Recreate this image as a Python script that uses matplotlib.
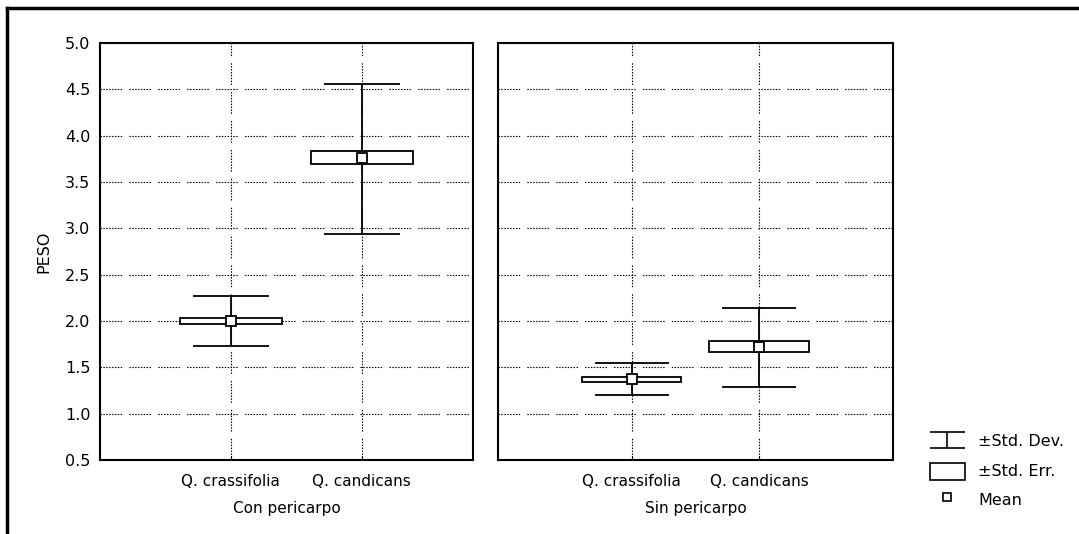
import matplotlib
matplotlib.use('Agg')
import numpy as np
import matplotlib.pyplot as plt
from matplotlib.patches import Rectangle
from matplotlib.lines import Line2D

# data
species = ['Q. crassifolia', 'Q. candicans']
groups = ['Con pericarpo', 'Sin pericarpo']
mean_vals = [[2.00, 3.76], [1.37, 1.72]]
se_low = [[1.97, 3.69], [1.34, 1.66]]
se_high = [[2.03, 3.83], [1.40, 1.78]]
sd_low = [[1.73, 2.94], [1.20, 1.29]]
sd_high = [[2.27, 4.56], [1.55, 2.14]]
yticks = [0.5, 1.0, 1.5, 2.0, 2.5, 3.0, 3.5, 4.0, 4.5, 5.0]

plt.rcParams['font.family'] = ['DejaVu Sans']

fig = plt.figure(figsize=(10.79, 5.34), dpi=100)
ax1 = fig.add_axes([0.0927, 0.1386, 0.3457, 0.7809])
ax2 = fig.add_axes([0.4615, 0.1386, 0.3661, 0.7809])

# groups of dots separated by gaps (dash units scale with lw)
dots = (1.3, 1.3) * 8
grid_kw = dict(color='k', lw=0.8, linestyle=(0, dots[:-1] + (6.5,)), zorder=0)
x = np.arange(1, len(species) + 1)
for ax, g, m, sl, sh, dl, dh, xl in zip(
        [ax1, ax2], groups, mean_vals, se_low, se_high, sd_low, sd_high,
        [(0, 2.85), (-0.05, 3.05)]):
    ax.set_xlim(*xl)
    ax.set_ylim(0.5, 5.0)
    for yv in yticks[1:-1]:
        ax.axhline(yv, **grid_kw)
    for xv in x:
        ax.axvline(xv, **grid_kw)
    # std dev whiskers
    ax.vlines(x, dl, dh, color='k', lw=1.3, zorder=2)
    ax.hlines(dl, x - 0.29, x + 0.29, color='k', lw=1.3, zorder=2)
    ax.hlines(dh, x - 0.29, x + 0.29, color='k', lw=1.3, zorder=2)
    # std err boxes
    for xi, lo, hi in zip(x, sl, sh):
        ax.add_patch(Rectangle((xi - 0.39, lo), 0.78, hi - lo, facecolor='white',
                               edgecolor='k', lw=1.3, zorder=3))
    ax.plot(x, m, 's', ms=7, mfc='white', mec='k', mew=1.3, zorder=4)
    ax.set_xticks(x)
    ax.set_xticklabels(species, fontsize=11)
    ax.set_xlabel(g, fontsize=11, labelpad=9)
    ax.tick_params(axis='x', direction='in', length=3, pad=10)
    for s in ax.spines.values():
        s.set_linewidth(1.5)

ax1.set_yticks(yticks)
ax1.set_yticklabels(['%.1f' % v for v in yticks], fontsize=11.5)
ax1.tick_params(axis='y', length=0, pad=7)
ax1.set_ylabel('PESO', fontsize=11.5, labelpad=10)
ax2.set_yticks(yticks)
ax2.set_yticklabels([])
ax2.tick_params(axis='y', length=0)

# outer frame lines (top and left)
fig.add_artist(Line2D([0.0065, 1.0], [0.985, 0.985], color='k', lw=2.5))
fig.add_artist(Line2D([0.0065, 0.0065], [0.0, 0.985], color='k', lw=2.5))

# legend
lax = fig.add_axes([0.855, 0.02, 0.14, 0.22])
lax.set_xlim(0, 1)
lax.set_ylim(0, 1)
lax.axis('off')
lax.hlines([0.78, 0.64], 0.05, 0.28, color='k', lw=1.2)
lax.vlines(0.165, 0.64, 0.78, color='k', lw=1.2)
lax.add_patch(Rectangle((0.05, 0.37), 0.23, 0.14, facecolor='white', edgecolor='k', lw=1.2))
lax.plot([0.165], [0.22], 's', ms=5.5, mfc='white', mec='k', mew=1.2)
lax.text(0.37, 0.70, '\u00b1Std. Dev.', fontsize=11.5, va='center')
lax.text(0.37, 0.44, '\u00b1Std. Err.', fontsize=11.5, va='center')
lax.text(0.37, 0.19, 'Mean', fontsize=11.5, va='center')

fig.savefig('out.png', dpi=100)
